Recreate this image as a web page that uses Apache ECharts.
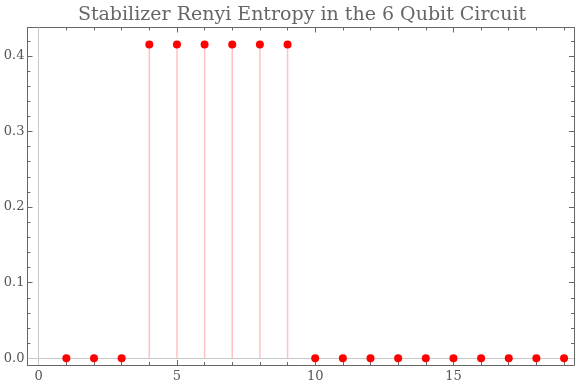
<!DOCTYPE html>
<html>
<head>
<meta charset="utf-8">
<script src="https://cdn.jsdelivr.net/npm/echarts@6/dist/echarts.min.js"></script>
<style>html,body{margin:0;padding:0;background:#fff}#c{width:576px;height:390px}</style>
</head>
<body>
<div id="c"></div>
<script>
const titleText = 'Stabilizer Renyi Entropy in the 6 Qubit Circuit';
const steps = [1,2,3,4,5,6,7,8,9,10,11,12,13,14,15,16,17,18,19];
const entropy = [0,0,0,0.415,0.415,0.415,0.415,0.415,0.415,0,0,0,0,0,0,0,0,0,0];
const xMajorTicks = [0,5,10,15];
const xMinorTicks = [1,2,3,4,6,7,8,9,11,12,13,14,16,17,18,19];
const yMajorTicks = [0,0.1,0.2,0.3,0.4];
const yMinorTicks = [0.02,0.04,0.06,0.08,0.12,0.14,0.16,0.18,0.22,0.24,0.26,0.28,0.32,0.34,0.36,0.38,0.42];

const X_MIN = -0.405, X_MAX = 19.36, Y_MIN = -0.0089, Y_MAX = 0.4376;
const frameColor = '#666';
const labelStyle = {fontFamily:'DejaVu Serif', fontSize:13, color:'#555'};
const points = steps.map((s,i)=>[s, entropy[i]]);

function xAx(pos, major, showLine, showLabel){
  return {
    type:'value', min:X_MIN, max:X_MAX, position:pos,
    axisLine:{show:showLine, onZero:false, lineStyle:{color:frameColor, width:1}},
    axisTick:{show:true, inside:true, length: major?5:3, customValues: major?xMajorTicks:xMinorTicks, lineStyle:{color:frameColor}},
    axisLabel:{show:showLabel, customValues: xMajorTicks, margin:5, ...labelStyle, formatter:v=>String(v)},
    splitLine:{show:false}
  };
}
function yAx(pos, major, showLine, showLabel){
  return {
    type:'value', min:Y_MIN, max:Y_MAX, position:pos,
    axisLine:{show:showLine, onZero:false, lineStyle:{color:frameColor, width:1}},
    axisTick:{show:true, inside:true, length: major?5:3, customValues: major?yMajorTicks:yMinorTicks, lineStyle:{color:frameColor}},
    axisLabel:{show:showLabel, customValues: yMajorTicks, margin:3, ...labelStyle, formatter:v=>v.toFixed(1)},
    splitLine:{show:false}
  };
}

const chart = echarts.init(document.getElementById('c'), null, {renderer:'canvas'});
chart.setOption({
  animation:false,
  backgroundColor:'#fff',
  title:{text:titleText, left:297, textAlign:'center', top:1,
    textStyle:{fontFamily:'DejaVu Serif', fontSize:19, fontWeight:'normal', color:'#666'}},
  grid:{left:27.5, right:2, top:27.5, bottom:25, containLabel:false},
  xAxis:[xAx('bottom',true,true,true), xAx('bottom',false,false,false), xAx('top',true,true,false), xAx('top',false,false,false)],
  yAxis:[yAx('left',true,true,true), yAx('left',false,false,false), yAx('right',true,true,false), yAx('right',false,false,false)],
  series:[
    {type:'bar', xAxisIndex:0, yAxisIndex:0, data:points, barWidth:1.5,
      itemStyle:{color:'#ffc2c2'}, z:2, silent:true,
      markLine:{silent:true, symbol:'none', label:{show:false}, animation:false,
        lineStyle:{color:'#c8c8c8', type:'solid', width:1},
        data:[{xAxis:0},{yAxis:0}]}},
    {type:'scatter', xAxisIndex:0, yAxisIndex:0, data:points, symbolSize:8,
      itemStyle:{color:'#ff0000', opacity:1}, z:5}
  ]
});
</script>
</body>
</html>
